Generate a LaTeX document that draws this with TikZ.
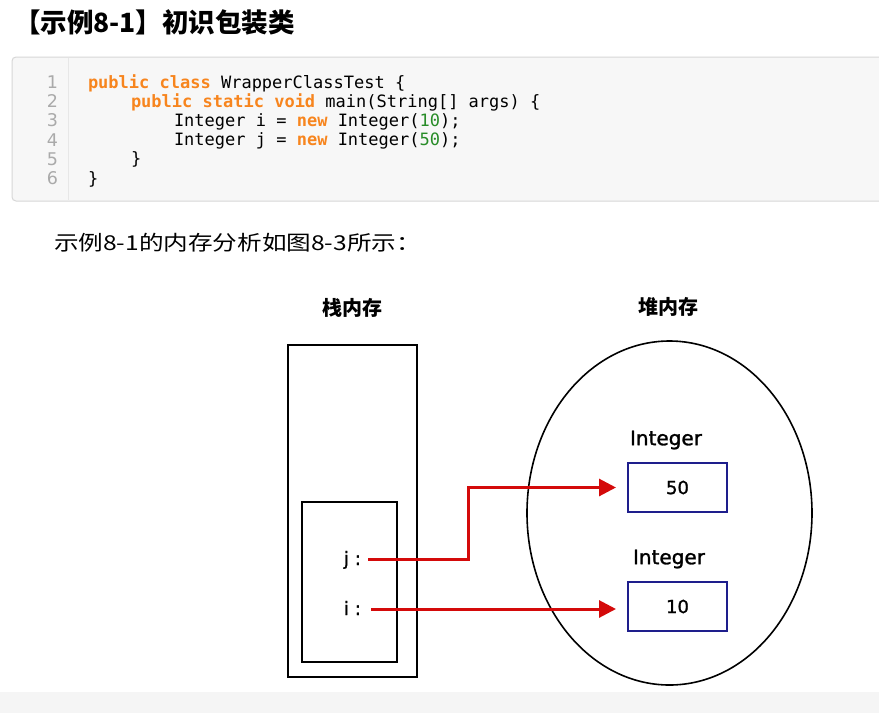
\documentclass[tikz,border=0pt]{standalone}
\usepackage{fontspec}
\usetikzlibrary{arrows.meta,shapes.geometric}
\newfontfamily\cjk{Noto Sans CJK SC}
\newfontfamily\monof{DejaVu Sans Mono}
\newfontfamily\dvs{DejaVu Sans}
\newfontfamily\dvsfb{DejaVu Sans}[FakeBold=1.3]
\definecolor{kwc}{RGB}{247,133,30}
\definecolor{numc}{RGB}{40,140,40}
\definecolor{lnc}{RGB}{170,170,170}
\definecolor{codebg}{RGB}{247,247,247}
\definecolor{codebd}{RGB}{215,215,215}
\definecolor{navyc}{RGB}{30,30,140}
\definecolor{arrred}{RGB}{212,10,10}
\definecolor{bandc}{RGB}{245,245,245}
\newcommand{\kw}[1]{\textcolor{kwc}{\bfseries #1}}
\newcommand{\nm}[1]{\textcolor{numc}{#1}}
\tikzset{
  txt/.style={inner sep=0pt, outer sep=0pt},
  codeline/.style={txt, anchor=base west, font=\monof\fontsize{17}{20}\selectfont},
  lnum/.style={txt, anchor=base east, text=lnc, font=\dvs\fontsize{17.5}{20}\selectfont},
  memlabel/.style={txt, font=\cjk\bfseries\fontsize{20}{24}\selectfont},
  typelabel/.style={txt, font=\dvsfb\fontsize{20}{24}\selectfont},
  valbox/.style={draw=navyc, line width=2pt, minimum width=99pt, minimum height=49pt, inner sep=0pt, font=\dvsfb\fontsize{18}{22}\selectfont},
  stackbox/.style={draw=black, line width=2.2pt, inner sep=0pt},
  varlabel/.style={txt, anchor=base east, font=\dvsfb\fontsize{18.5}{22}\selectfont},
  refarrow/.style={draw=arrred, line width=3pt, -{Triangle[length=17pt,width=17pt]}, shorten >=11pt},
}
\begin{document}
\begin{tikzpicture}[x=1pt,y=-1pt]
\useasboundingbox (0,0) rectangle (879,713);
\fill[white] (0,0) rectangle (879,713);
% bottom band
\fill[bandc] (0,692) rectangle (879,713);
% title
\node[txt, anchor=west, font=\cjk\bfseries\fontsize{26.5}{30}\selectfont] (title) at (14,22) {【示例8-1】初识包装类};
% code box
\draw[draw=codebd, fill=codebg, line width=1pt, rounded corners=4pt] (12,57) rectangle (895,201);
\draw[draw=codebd!60, line width=0.8pt] (68,58) -- (68,200);
\foreach \k in {1,...,6} {
  \node[lnum] (ln\k) at (58,{88.5+19.2*(\k-1)}) {\k};
}
\node[codeline] (c1) at (88,88) {\kw{public} \kw{class} WrapperClassTest \{};
\node[codeline] (c2) at (131,107.2) {\kw{public} \kw{static} \kw{void} main(String[] args) \{};
\node[codeline] (c3) at (174,126.4) {Integer i = \kw{new} Integer(\nm{10});};
\node[codeline] (c4) at (174,145.6) {Integer j = \kw{new} Integer(\nm{50});};
\node[codeline] (c5) at (131,164.8) {\}};
\node[codeline] (c6) at (88,184) {\}};
% caption
\node[txt, anchor=west, font=\cjk\fontsize{20.5}{24}\selectfont] (cap) at (54,243) {\scalebox{1.2}[1]{示例8-1的内存分析如图8-3所示：}};
% memory labels
\node[memlabel] (stacklab) at (352,308) {栈内存};
\node[memlabel] (heaplab) at (668,307) {堆内存};
% stack
\node[stackbox, minimum width=129pt, minimum height=332pt] (stack) at (352.5,511) {};
\node[stackbox, minimum width=95pt, minimum height=160pt] (frame) at (349.5,582) {};
\node[varlabel] (jl) at (361,565) {j :};
\node[varlabel] (il) at (361,615) {i :};
\coordinate (js) at (368,559);
\coordinate (is) at (371,609);
% heap
\node[draw=black, line width=1.6pt, ellipse, minimum width=285pt, minimum height=344pt, inner sep=0pt] (heap) at (669.5,513) {};
\node[typelabel] (t1) at (666,440) {Integer};
\node[valbox] (b50) at (677.5,487.5) {50};
\node[typelabel] (t2) at (669,559) {Integer};
\node[valbox] (b10) at (677.5,606.5) {10};
% references
\draw[refarrow] (js) -- ++(100,0) |- (b50.west);
\draw[refarrow] (is) -- (is -| b10.west);
\end{tikzpicture}
\end{document}
